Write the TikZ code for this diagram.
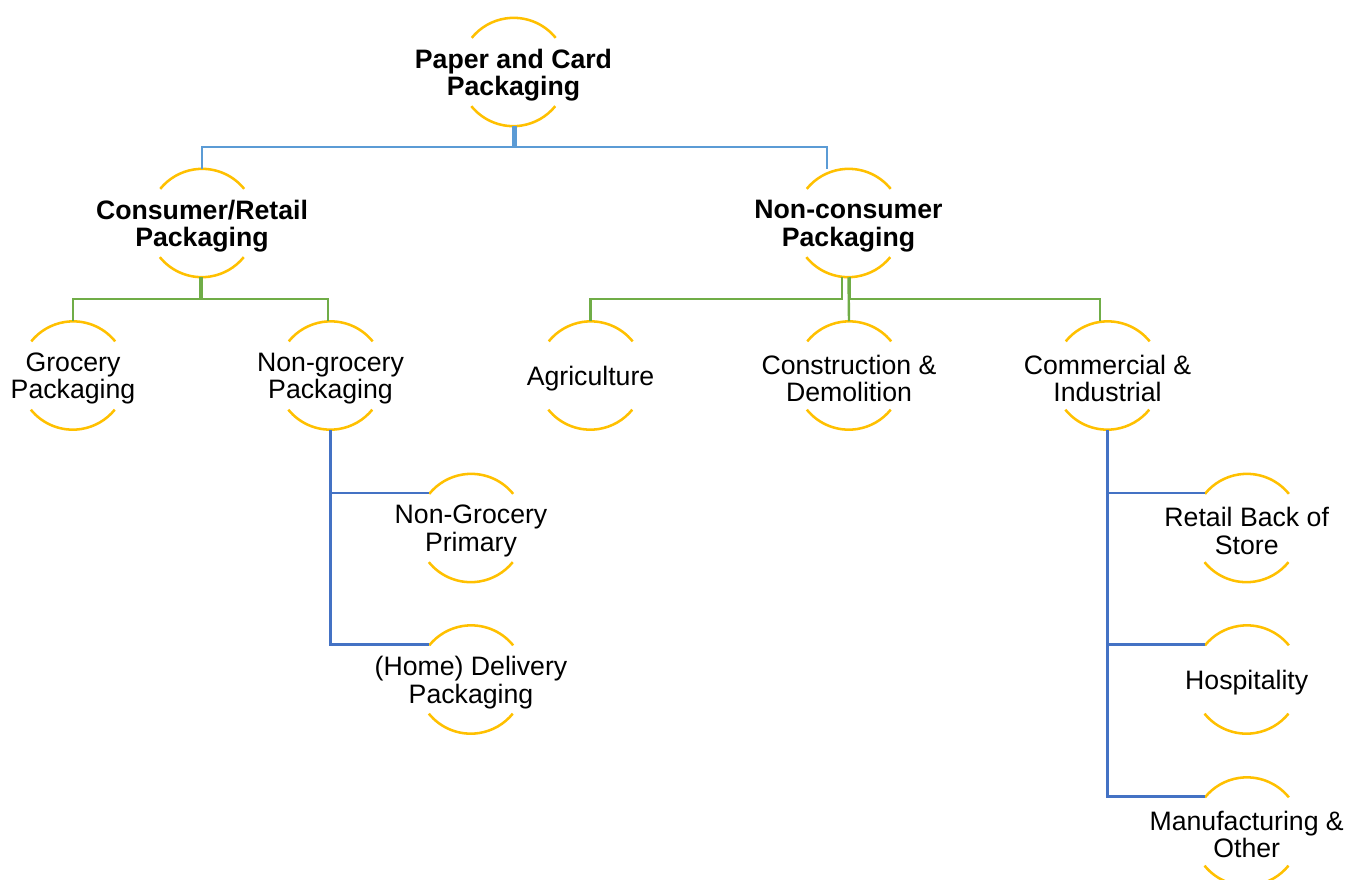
\documentclass[tikz,border=0pt]{standalone}
\usepackage{fontspec}
\setmainfont{Liberation Sans}
\usepackage{color}
\definecolor{myorange}{RGB}{255,192,0}
\definecolor{mylightblue}{RGB}{91,155,213}
\definecolor{mygreen}{RGB}{112,173,71}
\definecolor{myblue}{RGB}{68,114,196}
\usetikzlibrary{positioning}

\begin{document}
\begin{tikzpicture}[
  x=0.75pt,
  y=-0.75pt,
  font=\fontsize{20}{20.6}\selectfont,
  myring/.style={
    circle,
    minimum size=81pt,
    inner sep=0pt,
    label={[align=center,yshift=-2.2pt]center:#1}
    },
  myboldring/.style={
    circle,
    minimum size=81pt,
    inner sep=0pt,
    label={[align=center,yshift=-2.2pt,font=\fontsize{20}{20.6}\selectfont\bfseries]center:#1}
    },
  myarc/.style={draw=myorange,line width=1.9pt},
  myline/.style={draw=#1,line width=1.8pt}
]
\useasboundingbox (0,0) rectangle (1345,879);
\clip (0,0) rectangle (1345,879);

% levels one and two
\node[myboldring={Paper and Card\\Packaging}] (top) at (513.5,72) {};
\node[myboldring={Consumer/Retail\\Packaging}] (cons) at (202,223) {};
\node[myboldring={Non-consumer\\Packaging}] (ncons) at (848.5,223) {};

% level three
\node[myring={Grocery\\Packaging}] (groc) at (73,375.5) {};
\node[myring={Non-grocery\\Packaging}] (nongroc) at (330.5,375.5) {};
\node[myring={Agriculture}] (agri) at (590.5,375.5) {};
\node[myring={Construction \&\\Demolition}] (constr) at (849,375.5) {};
\node[myring={Commercial \&\\Industrial}] (comm) at (1107.5,375.5) {};

% level four
\node[myring={Non-Grocery\\Primary}] (ngp) at (471,528) {};
\node[myring={(Home) Delivery\\Packaging}] (home) at (471,679.5) {};
\node[myring={Retail Back of\\Store}] (retail) at (1246.7,528) {};
\node[myring={Hospitality}] (hosp) at (1246.7,679.5) {};
\node[myring={Manufacturing \&\\Other}] (manuf) at (1246.7,831.5) {};

\foreach \Ring in {top,cons,ncons,groc,nongroc,agri,constr,comm,ngp,home,retail,hosp,manuf}
  \draw[myarc] (\Ring.39) arc[start angle=39,end angle=141,radius=40.5pt]
    (\Ring.219) arc[start angle=219,end angle=321,radius=40.5pt];

% connectors
\draw[myline=mylightblue] (top.south) -- ++(0,21) -| (cons.north);
\draw[myline=mylightblue] ([xshift=1.8pt]top.south) -- ++(0,21) -| ([xshift=-16pt]ncons.north);

\draw[myline=mygreen] ([xshift=-1.5pt]cons.south) -- ++(0,21.5) -| (groc.north);
\draw[myline=mygreen] (cons.south) -- ++(0,21.5) -| ([xshift=-2pt]nongroc.north);

\draw[myline=mygreen] ([xshift=-5pt]ncons.south) -- ++(0,21.5) -| (agri.north);
\draw[myline=mygreen] (ncons.south) -- (constr.north);
\draw[myline=mygreen] ([xshift=1.2pt]ncons.south) -- ++(0,21.5) -| ([xshift=-5.6pt]comm.north);

\foreach \Kind in {ngp,home}
  \draw[myline=myblue] (nongroc.south) |- (\Kind.140);
\foreach \Kind in {retail,hosp,manuf}
  \draw[myline=myblue] (comm.south) |- (\Kind.140);

\end{tikzpicture}
\end{document}
